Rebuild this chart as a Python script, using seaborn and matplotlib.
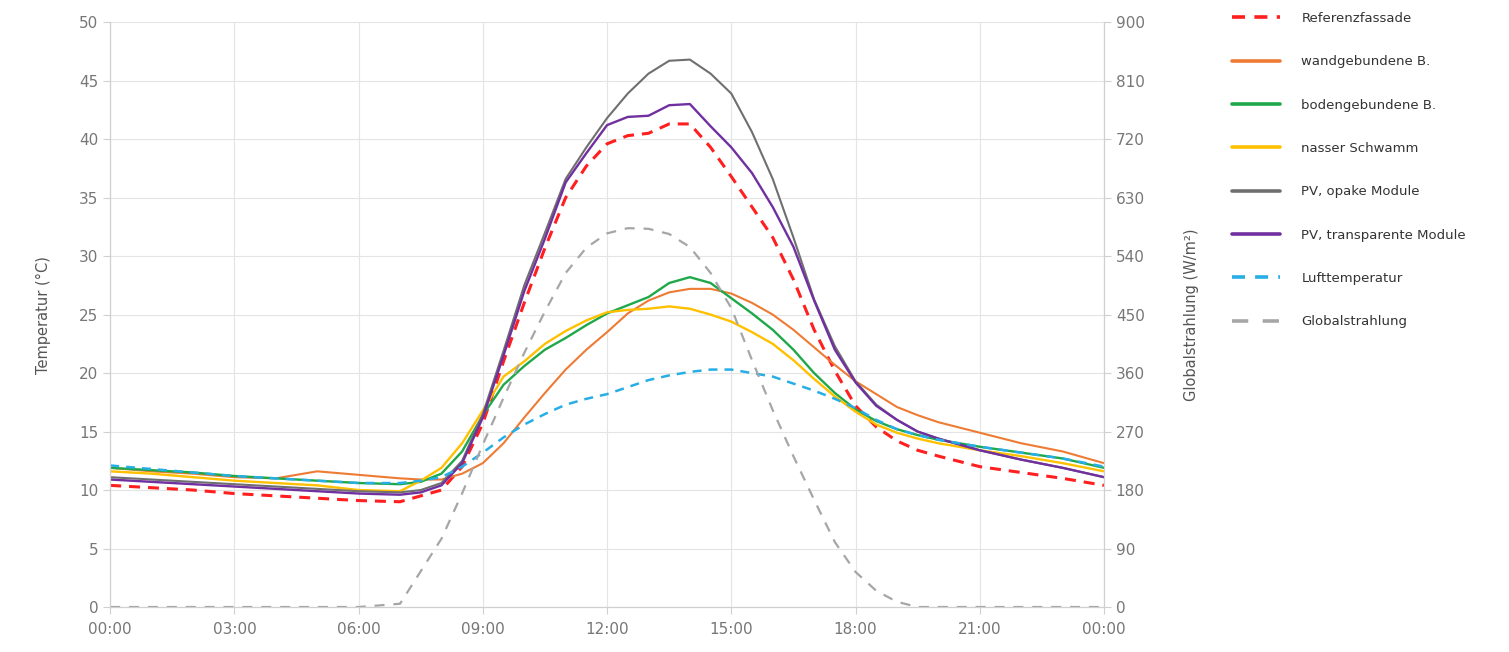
"""
Tagesgang Fassadentemperaturen vs. Lufttemperatur und Globalstrahlung.
"""
import pandas as pd
import matplotlib
matplotlib.use("Agg")
import matplotlib.pyplot as plt
import seaborn as sns

# time of day in hours
hours = [0, 1, 2, 3, 4, 5, 6, 7, 7.5, 8, 8.5, 9, 9.5, 10, 10.5, 11, 11.5, 12,
         12.5, 13, 13.5, 14, 14.5, 15, 15.5, 16, 16.5, 17, 17.5, 18, 18.5, 19,
         19.5, 20, 21, 22, 23, 24]

referenz = [10.4, 10.2, 10.0, 9.7, 9.5, 9.3, 9.1, 9.0, 9.5, 10.0, 12.0, 15.7,
            21.0, 26.0, 30.7, 35.0, 37.7, 39.6, 40.3, 40.5, 41.3, 41.3, 39.3,
            36.8, 34.2, 31.6, 28.0, 23.7, 20.2, 17.2, 15.4, 14.2, 13.4, 12.9,
            12.0, 11.5, 11.0, 10.4]
wandgebunden = [11.9, 11.6, 11.4, 11.1, 11.0, 11.6, 11.3, 11.0, 10.9, 10.9,
                11.4, 12.3, 14.0, 16.2, 18.3, 20.3, 22.0, 23.5, 25.1, 26.2,
                26.9, 27.2, 27.2, 26.8, 26.0, 25.0, 23.7, 22.2, 20.7, 19.3,
                18.2, 17.1, 16.4, 15.8, 14.9, 14.0, 13.3, 12.3]
bodengebunden = [11.9, 11.7, 11.5, 11.2, 11.0, 10.8, 10.6, 10.5, 10.7, 11.4,
                 13.3, 16.4, 19.0, 20.6, 22.0, 23.0, 24.1, 25.1, 25.8, 26.5,
                 27.7, 28.2, 27.7, 26.4, 25.1, 23.7, 22.0, 20.0, 18.3, 16.9,
                 15.9, 15.2, 14.7, 14.3, 13.7, 13.2, 12.7, 11.9]
schwamm = [11.6, 11.4, 11.1, 10.8, 10.6, 10.4, 10.0, 9.9, 10.8, 11.9, 14.0,
           16.8, 19.7, 21.0, 22.5, 23.6, 24.5, 25.2, 25.4, 25.5, 25.7, 25.5,
           25.0, 24.4, 23.5, 22.5, 21.1, 19.5, 18.0, 16.7, 15.6, 14.9, 14.4,
           14.0, 13.4, 12.9, 12.3, 11.6]
pv_opak = [11.1, 10.9, 10.7, 10.5, 10.3, 10.1, 9.9, 9.8, 10.0, 10.6, 12.5,
           16.5, 21.9, 27.5, 32.0, 36.6, 39.3, 41.8, 43.9, 45.6, 46.7, 46.8,
           45.6, 43.9, 40.6, 36.6, 31.6, 26.3, 22.3, 19.3, 17.3, 16.0, 15.0,
           14.4, 13.4, 12.6, 11.9, 11.1]
pv_transparent = [10.9, 10.7, 10.5, 10.3, 10.1, 9.9, 9.7, 9.6, 9.8, 10.4,
                  12.3, 16.2, 21.5, 27.0, 31.5, 36.3, 38.8, 41.2, 41.9, 42.0,
                  42.9, 43.0, 41.1, 39.3, 37.1, 34.2, 30.8, 26.2, 22.0, 19.2,
                  17.2, 16.0, 15.0, 14.4, 13.4, 12.6, 11.9, 11.1]
luft = [12.1, 11.8, 11.5, 11.2, 11.0, 10.8, 10.6, 10.6, 10.8, 11.1, 12.0,
        13.2, 14.5, 15.6, 16.5, 17.3, 17.8, 18.2, 18.8, 19.4, 19.8, 20.1, 20.3,
        20.3, 20.0, 19.7, 19.1, 18.5, 17.8, 17.0, 16.0, 15.2, 14.7, 14.3, 13.7,
        13.2, 12.7, 12.0]
globalstrahlung = [0, 0, 0, 0, 0, 0, 0, 5, 55, 105, 175, 250, 322, 391, 455,
                   514, 553, 575, 583, 582, 574, 554, 514, 460, 380, 303, 232,
                   165, 100, 54, 25, 8, 0, 0, 0, 0, 0, 0]

x_ticks = [0, 3, 6, 9, 12, 15, 18, 21, 24]
x_labels = ["00:00", "03:00", "06:00", "09:00", "12:00", "15:00", "18:00",
            "21:00", "00:00"]

temp_df = pd.DataFrame({
    "Stunde": hours,
    "Referenzfassade": referenz,
    "wandgebundene B.": wandgebunden,
    "bodengebundene B.": bodengebunden,
    "nasser Schwamm": schwamm,
    "PV, opake Module": pv_opak,
    "PV, transparente Module": pv_transparent,
    "Lufttemperatur": luft,
})
rad_df = pd.DataFrame({"Stunde": hours, "Globalstrahlung": globalstrahlung})

# (colour, linewidth, dash pattern or None)
styles = {
    "Referenzfassade": ("#ff1f1f", 2.2, (3.6, 2.6)),
    "wandgebundene B.": ("#ee7b33", 1.5, None),
    "bodengebundene B.": ("#1fa84a", 1.7, None),
    "nasser Schwamm": ("#ffc000", 1.7, None),
    "PV, opake Module": ("#6f6f6f", 1.5, None),
    "PV, transparente Module": ("#7030a0", 1.7, None),
    "Lufttemperatur": ("#27aee6", 1.8, (3.6, 2.8)),
}

sns.set_style("whitegrid", {
    "grid.color": "#e4e4e4",
    "axes.edgecolor": "#d0d0d0",
    "xtick.bottom": True,
    "ytick.left": True,
})
plt.rcParams["font.family"] = ["DejaVu Sans"]

fig = plt.figure(figsize=(15.09, 6.52), dpi=100)
ax = fig.add_axes([0.073, 0.069, 0.6586, 0.897])

handles = []
for name, (color, lw, dash) in styles.items():
    sns.lineplot(data=temp_df, x="Stunde", y=name, ax=ax, color=color,
                 linewidth=lw, label=name, legend=False)
    line = ax.get_lines()[-1]
    if dash is not None:
        line.set_dashes(dash)
    handles.append(line)

ax2 = ax.twinx()
sns.lineplot(data=rad_df, x="Stunde", y="Globalstrahlung", ax=ax2,
             color="#a6a6a6", linewidth=1.6, label="Globalstrahlung",
             legend=False)
rad_line = ax2.get_lines()[-1]
rad_line.set_dashes((4.5, 4))
handles.append(rad_line)

# Axes limits and ticks
ax.set_xlim(0, 24)
ax.set_ylim(0, 50)
ax.set_xticks(x_ticks)
ax.set_xticklabels(x_labels)
ax.set_yticks(range(0, 51, 5))
ax2.set_ylim(0, 900)
ax2.set_yticks(range(0, 901, 90))
ax2.grid(False)

ax.set_xlabel("")
ax.set_ylabel("Temperatur (°C)", fontsize=10.5, color="#555555", labelpad=20)
ax2.set_ylabel("Globalstrahlung (W/m²)", fontsize=10.5, color="#555555",
               labelpad=28)

for a in (ax, ax2):
    a.tick_params(axis="both", labelsize=11, colors="#777777", length=5,
                  width=0.8)
    a.tick_params(axis="both", color="#d0d0d0")
    a.spines["top"].set_visible(False)
    for s in ("left", "right", "bottom"):
        a.spines[s].set_color("#d0d0d0")
ax.tick_params(axis="x", pad=6)

# Legend outside on the right
leg = fig.legend(handles=handles, labels=list(styles) + ["Globalstrahlung"],
                 loc="upper left", bbox_to_anchor=(0.81, 0.996), frameon=False,
                 fontsize=9.5, handlelength=3.7, handletextpad=1.6,
                 labelspacing=2.3, borderaxespad=0.3)
for txt in leg.get_texts():
    txt.set_color("#333333")
for lh in leg.get_lines():
    lh.set_linewidth(2.6)

fig.savefig("out.png", dpi=100)
